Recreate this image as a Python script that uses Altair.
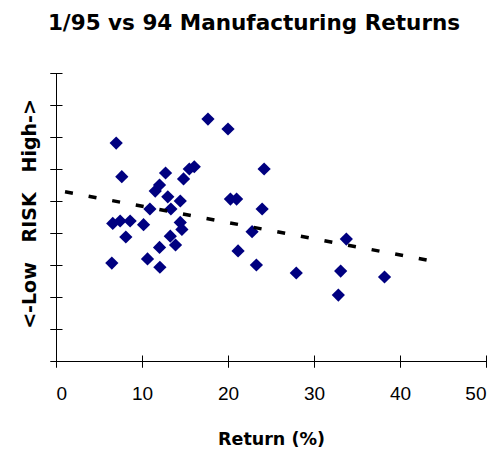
import altair as alt
import pandas as pd

# Scatter data
ret_x = [7.0, 7.65, 6.6, 7.46, 8.62, 8.12, 6.49, 10.18, 10.92, 10.64, 12.04, 12.08,
         11.54, 12.04, 12.74, 13.0, 13.36, 14.45, 13.29, 13.9, 14.45, 14.64, 14.83,
         15.5, 16.08, 17.67, 20.0, 20.28, 21.0, 21.17, 22.8, 23.3, 24.2, 23.97,
         27.94, 33.1, 32.83, 33.76, 38.2]
risk_y = [6.81, 5.76, 4.30, 4.375, 4.375, 3.875, 3.06, 4.26, 4.75, 3.19, 3.55, 2.93,
          5.31, 5.5, 5.875, 5.13, 4.75, 5.0, 3.9, 3.625, 4.33, 4.11, 5.69,
          6.0, 6.07, 7.56, 7.25, 5.06, 5.06, 3.44, 4.04, 3.0, 6.0, 4.75,
          2.75, 2.81, 2.06, 3.81, 2.625]

# Trend line end points
trend_x = [1.05, 43.2]
trend_y = [5.29, 3.15]

x_ticks = [0, 10, 20, 30, 40, 50]
y_ticks = [0, 1, 2, 3, 4, 5, 6, 7, 8, 9]

pts = pd.DataFrame({"x": ret_x, "y": risk_y})
trend = pd.DataFrame({"x": trend_x, "y": trend_y})

xscale = alt.Scale(domain=[0, 50], nice=False, zero=False)
yscale = alt.Scale(domain=[0, 9], nice=False, zero=False)

points = alt.Chart(pts).mark_point(
    shape="diamond", filled=True, size=175, color="#000080", opacity=1
).encode(
    x=alt.X("x:Q", scale=xscale,
            axis=alt.Axis(values=x_ticks, grid=False, domain=True, domainColor="#000",
                          tickColor="#000", tickSize=6, labelFont="Liberation Sans",
                          labelFontSize=19, labelColor="#000", labelPadding=17,
                          title="Return (%)", titleFont="DejaVu Sans",
                          titleFontWeight="bold", titleFontSize=17.5, titleColor="#000",
                          titleBaseline="alphabetic", titleY=83, orient="bottom")),
    y=alt.Y("y:Q", scale=yscale,
            axis=alt.Axis(values=y_ticks, grid=False, labels=False, domain=True,
                          domainColor="#000", tickColor="#000", tickSize=6,
                          title="<-Low\u00a0\u00a0\u00a0RISK\u00a0\u00a0\u00a0High->",
                          titleFont="DejaVu Sans", titleFontWeight="bold",
                          titleFontSize=19, titleColor="#000", titleAngle=270,
                          titleBaseline="alphabetic", titleAlign="center",
                          titleX=-21, titleY=140.5, orient="left")),
)

line = alt.Chart(trend).mark_line(
    color="#000", strokeWidth=3.5, strokeDash=[8, 16]
).encode(
    x=alt.X("x:Q", scale=xscale,
            axis=alt.Axis(values=x_ticks, grid=False, domain=False, labels=False,
                          title=None, ticks=True, tickSize=12, tickColor="#000",
                          offset=-6, orient="bottom")),
    y=alt.Y("y:Q", scale=yscale,
            axis=alt.Axis(values=y_ticks, grid=False, domain=False, labels=False,
                          title=None, ticks=True, tickSize=12, tickColor="#000",
                          offset=-6, orient="left")),
)

chart = alt.layer(points, line).resolve_axis(
    x="independent", y="independent"
).properties(
    width=430, height=288,
    autosize=alt.AutoSizeParams(type="none"),
    padding={"left": 56, "top": 73, "right": 17, "bottom": 92},
    title=alt.TitleParams(
        "1/95 vs 94 Manufacturing Returns", font="DejaVu Sans", fontWeight="bold",
        fontSize=21.5, color="#000", anchor="middle", baseline="alphabetic",
        offset=21, dx=-17
    ),
).configure_view(stroke=None)

chart.save("out.html", embed_options={"renderer": "svg", "actions": False})
